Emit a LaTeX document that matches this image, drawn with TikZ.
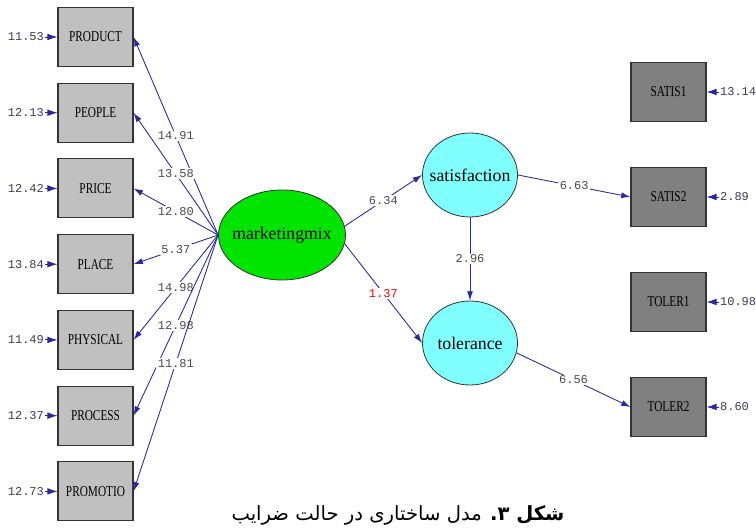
\documentclass[tikz,border=0pt]{standalone}
\usepackage{fontspec}
\setmainfont{Liberation Serif}
\newfontfamily\boxfont[FakeStretch=0.75]{Liberation Serif}
\newfontfamily\numfont{Liberation Mono}
\newfontfamily\arabicfont[Script=Arabic]{DejaVu Sans}
\TeXXeTstate=1
\usetikzlibrary{shapes.geometric, arrows.meta, positioning}
\definecolor{arrblue}{RGB}{40,40,165}
\definecolor{lgray}{RGB}{192,192,192}
\definecolor{dgray}{RGB}{128,128,128}
\definecolor{mixgreen}{RGB}{0,228,0}
\definecolor{latcyan}{RGB}{128,255,255}
\definecolor{numgray}{RGB}{60,60,85}
\definecolor{lblgray}{RGB}{75,75,75}

\begin{document}
\begin{tikzpicture}[x=0.75pt, y=-0.75pt,
    obsl/.style={draw=black!80, fill=lgray, line width=0.8pt,
        minimum width=56.25pt, minimum height=44.25pt, inner sep=0pt,
        font=\boxfont\fontsize{11.3}{13}\selectfont},
    obsr/.style={obsl, fill=dgray},
    latent/.style={draw=black!80, ellipse, inner sep=0pt, line width=0.6pt,
        font=\fontsize{13.3}{15}\selectfont},
    errl/.style={font=\numfont\fontsize{9}{10}\selectfont, text=numgray, inner sep=1pt},
    lbl/.style={font=\numfont\fontsize{9}{10}\selectfont, fill=white, text=lblgray, inner sep=1pt},
    arr/.style={draw=arrblue, line width=0.65pt, -{Latex[length=7pt,width=4.5pt]}},
    node distance=11.75pt]
    \useasboundingbox (0,0) rectangle (756,530);

    % left indicators
    \node[obsl] (product) at (95.5,37) {PRODUCT};
    \node[obsl, below =of product]  (people)   {PEOPLE};
    \node[obsl, below =of people]   (price)    {PRICE};
    \node[obsl, below =of price]    (place)    {PLACE};
    \node[obsl, below =of place]    (physical) {PHYSICAL};
    \node[obsl, below =of physical] (process)  {PROCESS};
    \node[obsl, below =of process]  (promotio) {PROMOTIO};

    % right indicators
    \node[obsr] (satis1) at (668.5,92) {SATIS1};
    \node[obsr, below =33.7pt of satis1] (satis2) {SATIS2};
    \node[obsr, below =33.7pt of satis2] (toler1) {TOLER1};
    \node[obsr, below =33.7pt of toler1] (toler2) {TOLER2};

    % latent variables
    \node[latent, fill=mixgreen, minimum width=95.25pt, minimum height=67.5pt]
        (mix) at (282,235) {\makebox[0pt]{marketingmix}};
    \node[latent, fill=latcyan, minimum width=71.25pt, minimum height=63pt]
        (sat) at (470,175) {\makebox[0pt]{satisfaction}};
    \node[latent, fill=latcyan, minimum width=71.25pt, minimum height=63pt]
        (tol) at (470,343) {\makebox[0pt]{tolerance}};

    % error terms
    \foreach \ind/\val in {product/11.53, people/12.13, price/12.42, place/13.84,
                           physical/11.49, process/12.37, promotio/12.73}
    {
        \node[errl, left =9pt of \ind] (e\ind) {\val};
        \draw[arr, -{Latex[length=7.5pt,width=5pt]}] (e\ind) -- (\ind);
    }
    \foreach \ind/\val in {satis1/13.14, satis2/2.89, toler1/10.98, toler2/8.60}
    {
        \node[errl, right =9pt of \ind] (e\ind) {\val};
        \draw[arr, -{Latex[length=7.5pt,width=5pt]}] (e\ind) -- (\ind);
    }

    % loadings
    \foreach \to/\val in {product/14.91, people/13.58, price/12.80, place/5.37,
                          physical/14.98, process/12.98, promotio/11.81}
        \draw[arr] (mix.west) -- node[lbl] {\val} (\to.east);

    % structural paths
    \draw[arr] (mix.8) -- node[lbl] {6.34} (sat.west);
    \draw[arr] (mix.-8) -- node[lbl, text=red] {1.37} (tol.west);
    \draw[arr] (sat.south) -- node[lbl] {2.96} (tol.north);
    \draw[arr] (sat.east) -- node[lbl] {6.63} (satis2.west);
    \draw[arr] (tol.-12) -- node[lbl] {6.56} (toler2.west);

    % caption
    \node[font=\arabicfont\fontsize{14.7}{17}\selectfont] (caption) at (398,515)
        {\beginR\textbf{شکل ۳.} مدل ساختاری در حالت ضرایب\endR};
\end{tikzpicture}
\end{document}
